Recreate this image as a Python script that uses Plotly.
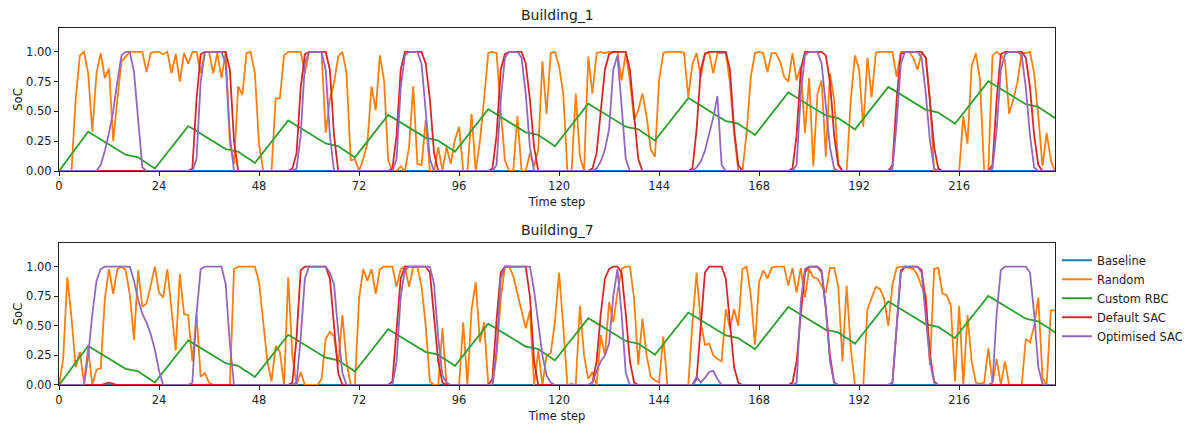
import plotly.graph_objects as go
from plotly.subplots import make_subplots

# ---------------- data ----------------
time_steps = list(range(240))
x_tick_vals = [0, 24, 48, 72, 96, 120, 144, 168, 192, 216]
y_tick_vals = [0.0, 0.25, 0.5, 0.75, 1.0]
y_tick_text = ["0.00", "0.25", "0.50", "0.75", "1.00"]
series_names = ["Baseline", "Random", "Custom RBC", "Default SAC", "Optimised SAC"]
subplot_titles = ["Building_1", "Building_7"]

baseline = [
    0, 0, 0, 0, 0, 0, 0, 0, 0, 0, 0, 0, 0, 0, 0, 0, 0, 0, 0, 0, 0, 0, 0, 0,
    0, 0, 0, 0, 0, 0, 0, 0, 0, 0, 0, 0, 0, 0, 0, 0, 0, 0, 0, 0, 0, 0, 0, 0,
    0, 0, 0, 0, 0, 0, 0, 0, 0, 0, 0, 0, 0, 0, 0, 0, 0, 0, 0, 0, 0, 0, 0, 0,
    0, 0, 0, 0, 0, 0, 0, 0, 0, 0, 0, 0, 0, 0, 0, 0, 0, 0, 0, 0, 0, 0, 0, 0,
    0, 0, 0, 0, 0, 0, 0, 0, 0, 0, 0, 0, 0, 0, 0, 0, 0, 0, 0, 0, 0, 0, 0, 0,
    0, 0, 0, 0, 0, 0, 0, 0, 0, 0, 0, 0, 0, 0, 0, 0, 0, 0, 0, 0, 0, 0, 0, 0,
    0, 0, 0, 0, 0, 0, 0, 0, 0, 0, 0, 0, 0, 0, 0, 0, 0, 0, 0, 0, 0, 0, 0, 0,
    0, 0, 0, 0, 0, 0, 0, 0, 0, 0, 0, 0, 0, 0, 0, 0, 0, 0, 0, 0, 0, 0, 0, 0,
    0, 0, 0, 0, 0, 0, 0, 0, 0, 0, 0, 0, 0, 0, 0, 0, 0, 0, 0, 0, 0, 0, 0, 0,
    0, 0, 0, 0, 0, 0, 0, 0, 0, 0, 0, 0, 0, 0, 0, 0, 0, 0, 0, 0, 0, 0, 0, 0,
]

custom_rbc = [
    0.000, 0.047, 0.094, 0.141, 0.189, 0.236, 0.283, 0.330,
    0.309, 0.287, 0.266, 0.244, 0.223, 0.201, 0.180, 0.158,
    0.137, 0.130, 0.125, 0.115, 0.090, 0.070, 0.045, 0.020,
    0.065, 0.109, 0.154, 0.199, 0.243, 0.288, 0.332, 0.377,
    0.356, 0.334, 0.313, 0.291, 0.270, 0.248, 0.227, 0.205,
    0.184, 0.177, 0.172, 0.162, 0.137, 0.117, 0.092, 0.067,
    0.112, 0.156, 0.201, 0.246, 0.290, 0.335, 0.379, 0.424,
    0.403, 0.381, 0.360, 0.338, 0.317, 0.295, 0.274, 0.252,
    0.231, 0.224, 0.219, 0.209, 0.184, 0.164, 0.139, 0.114,
    0.159, 0.203, 0.248, 0.293, 0.337, 0.382, 0.426, 0.471,
    0.450, 0.428, 0.407, 0.385, 0.364, 0.342, 0.321, 0.299,
    0.278, 0.271, 0.266, 0.256, 0.231, 0.211, 0.186, 0.161,
    0.206, 0.250, 0.295, 0.340, 0.384, 0.429, 0.473, 0.518,
    0.497, 0.475, 0.454, 0.432, 0.411, 0.389, 0.368, 0.346,
    0.325, 0.318, 0.313, 0.303, 0.278, 0.258, 0.233, 0.208,
    0.253, 0.297, 0.342, 0.387, 0.431, 0.476, 0.520, 0.565,
    0.544, 0.522, 0.501, 0.479, 0.458, 0.436, 0.415, 0.393,
    0.372, 0.365, 0.360, 0.350, 0.325, 0.305, 0.280, 0.255,
    0.300, 0.344, 0.389, 0.434, 0.478, 0.523, 0.567, 0.612,
    0.591, 0.569, 0.548, 0.526, 0.505, 0.483, 0.462, 0.440,
    0.419, 0.412, 0.407, 0.397, 0.372, 0.352, 0.327, 0.302,
    0.347, 0.391, 0.436, 0.481, 0.525, 0.570, 0.614, 0.659,
    0.638, 0.616, 0.595, 0.573, 0.552, 0.530, 0.509, 0.487,
    0.466, 0.459, 0.454, 0.444, 0.419, 0.399, 0.374, 0.349,
    0.394, 0.438, 0.483, 0.528, 0.572, 0.617, 0.661, 0.706,
    0.685, 0.663, 0.642, 0.620, 0.599, 0.577, 0.556, 0.534,
    0.513, 0.506, 0.501, 0.491, 0.466, 0.446, 0.421, 0.396,
    0.441, 0.485, 0.530, 0.575, 0.619, 0.664, 0.708, 0.753,
    0.732, 0.710, 0.689, 0.667, 0.646, 0.624, 0.603, 0.581,
    0.560, 0.553, 0.548, 0.538, 0.513, 0.493, 0.468, 0.443,
]

random_b1 = [
    0, 0, 0, 0, 0.6, 0.97, 1, 0.82, 0.33, 0.82, 0.99, 0.78, 0.86, 0.25, 0.6, 0.92, 0.96, 1, 1, 1, 1, 0.83, 0.99, 1,
    1, 0.98, 1, 0.82, 0.98, 0.75, 0.99, 0.9, 1, 1, 0.82, 1, 1, 0.82, 0.99, 0.78, 1, 0.23, 0.06, 0.71, 0.64, 0.99, 1, 0.82,
    0.23, 0, 0, 0, 0.61, 0.61, 0.97, 1, 1, 1, 1, 0.82, 1, 1, 1, 1, 0.32, 0.6, 0.74, 0.96, 1, 0.82, 0.09, 0.1,
    0, 0.1, 0.23, 0.71, 0.51, 0.97, 0.76, 0.09, 0, 0, 0.04, 0, 0.2, 0.71, 0.06, 0.05, 0.43, 0, 0, 0.2, 0, 0.2, 0.06, 0.26,
    0.37, 0, 0, 0.48, 0, 0.25, 0.6, 0.99, 1, 0.99, 0.51, 0.09, 0, 0, 0.46, 0, 0, 0.15, 0.04, 0.18, 0.92, 0.48, 0.99, 1,
    0.88, 0.65, 0, 0, 0.65, 0.12, 0, 0.96, 0.65, 0.99, 1, 0.99, 1, 1, 1, 0.76, 0.99, 0.76, 0.43, 0.51, 0.65, 0.46, 0.18, 0.12,
    0.76, 0.99, 1, 1, 1, 1, 0.99, 0.62, 0.9, 0.99, 0.79, 0.99, 0.99, 0.82, 0.99, 0.99, 0.99, 0.74, 0.32, 0, 0, 0.32, 0.79, 0.99,
    1, 0.99, 0.83, 0.99, 0.99, 0.92, 0.79, 0.75, 0.99, 0.76, 0.88, 0.32, 0.78, 0.04, 0.65, 0.76, 0.12, 0.82, 0.6, 0.06, 0, 0, 0.6, 0.97,
    0.85, 0.37, 0.95, 0.62, 0.99, 1, 1, 1, 1, 0.79, 1, 1, 1, 0.95, 0.85, 0.99, 0.95, 0.6, 0, 0, 0, 0, 0, 0,
    0, 0.46, 0.23, 0.88, 0.99, 0.76, 0, 0, 0.97, 1, 0.97, 0.93, 0.48, 0.6, 0.75, 0.99, 0.99, 1, 0.82, 0.46, 0.04, 0.32, 0.09, 0,
]

default_sac_b1 = [
    0, 0, 0, 0, 0, 0, 0, 0, 0, 0, 0, 0, 0, 0, 0, 0, 0, 0, 0, 0, 0, 0, 0, 0,
    0, 0, 0, 0, 0, 0, 0, 0, 0.02, 0.6, 0.98, 1, 1, 1, 1, 1, 1, 0.85, 0.25, 0, 0, 0, 0, 0,
    0, 0, 0, 0, 0, 0, 0, 0, 0.02, 0.15, 0.7, 0.98, 1, 1, 1, 1, 1, 0.85, 0.3, 0, 0, 0, 0, 0,
    0, 0, 0, 0, 0, 0, 0, 0, 0.02, 0.3, 0.85, 1, 1, 1, 1, 1, 0.9, 0.6, 0.15, 0, 0, 0, 0, 0,
    0, 0, 0, 0, 0, 0, 0, 0, 0.02, 0.3, 0.85, 0.98, 1, 1, 1, 1, 0.9, 0.6, 0.2, 0, 0, 0, 0, 0,
    0, 0, 0, 0, 0, 0, 0, 0, 0.02, 0.15, 0.5, 0.85, 0.98, 1, 1, 1, 1, 0.85, 0.45, 0.1, 0, 0, 0, 0,
    0, 0, 0, 0, 0, 0, 0, 0, 0.02, 0.35, 0.85, 0.98, 1, 1, 1, 1, 1, 0.85, 0.35, 0.05, 0, 0, 0, 0,
    0, 0, 0, 0, 0, 0, 0, 0, 0.02, 0.3, 0.85, 1, 1, 1, 1, 1, 0.97, 0.75, 0.3, 0.05, 0, 0, 0, 0,
    0, 0, 0, 0, 0, 0, 0, 0, 0.05, 0.6, 0.98, 1, 1, 1, 1, 1, 0.95, 0.6, 0.2, 0.02, 0, 0, 0, 0,
    0, 0, 0, 0, 0, 0, 0, 0, 0.05, 0.6, 0.98, 1, 1, 1, 1, 1, 0.95, 0.7, 0.3, 0.05, 0, 0, 0, 0,
]

optimised_sac_b1 = [
    0, 0, 0, 0, 0, 0, 0, 0, 0, 0, 0.05, 0.17, 0.32, 0.5, 0.75, 0.97, 1, 1, 0.83, 0.4, 0.03, 0, 0, 0,
    0, 0, 0, 0, 0, 0, 0, 0, 0, 0.1, 0.75, 1, 1, 1, 1, 1, 0.9, 0.3, 0, 0, 0, 0, 0, 0,
    0, 0, 0, 0, 0, 0, 0, 0, 0, 0.02, 0.3, 0.9, 1, 1, 1, 1, 0.85, 0.3, 0, 0, 0, 0, 0, 0,
    0, 0, 0, 0, 0, 0, 0, 0, 0, 0.1, 0.7, 0.97, 1, 1, 1, 0.9, 0.5, 0.1, 0, 0, 0, 0, 0, 0,
    0, 0, 0, 0, 0, 0, 0, 0, 0, 0.05, 0.6, 0.95, 1, 1, 1, 0.95, 0.65, 0.2, 0, 0, 0, 0, 0, 0,
    0, 0, 0, 0, 0, 0, 0, 0, 0, 0.02, 0.08, 0.18, 0.35, 0.85, 0.97, 0.55, 0.1, 0, 0, 0, 0, 0, 0, 0,
    0, 0, 0, 0, 0, 0, 0, 0, 0, 0.03, 0.08, 0.17, 0.3, 0.45, 0.63, 0.05, 0, 0, 0, 0, 0, 0, 0, 0,
    0, 0, 0, 0, 0, 0, 0, 0, 0, 0.05, 0.65, 0.97, 1, 1, 1, 0.9, 0.55, 0.2, 0.02, 0, 0, 0, 0, 0,
    0, 0, 0, 0, 0, 0, 0, 0, 0.02, 0.4, 0.9, 1, 1, 1, 1, 0.95, 0.65, 0.25, 0.02, 0, 0, 0, 0, 0,
    0, 0, 0, 0, 0, 0, 0, 0, 0.02, 0.35, 0.85, 0.98, 1, 1, 1, 0.97, 0.7, 0.3, 0.03, 0, 0, 0, 0, 0,
]

random_b7 = [
    0, 0.22, 0.91, 0.57, 0.15, 0.28, 0.02, 0.31, 0, 0.13, 0.14, 0.73, 0.98, 0.77, 0.98, 1, 0.97, 0.76, 0.38, 0.97, 0.66, 0.69, 0.84, 1,
    0.78, 0.74, 0.98, 0.64, 0.29, 0.94, 0.6, 0.59, 0.2, 0.6, 0.07, 0.1, 0.02, 0, 0, 0, 0, 0, 0.98, 1, 1, 1, 1, 1,
    0.87, 0.53, 0.2, 0.03, 0.33, 0.28, 0, 0.91, 0.25, 0, 0.11, 0, 0, 0, 0, 0.05, 0.39, 0.45, 0.41, 0.17, 0.59, 0.2, 0, 0,
    0.73, 0.98, 0.88, 0.98, 0.77, 0.98, 1, 1, 1, 0.83, 0.98, 1, 0.83, 1, 1, 0.83, 0.5, 0.03, 0, 0, 0.48, 0, 0, 0,
    0, 0.53, 0, 0.64, 0.87, 0.36, 0.53, 0, 0, 0.25, 0.73, 1, 1, 0.92, 0.78, 0.64, 0.48, 0.63, 0, 0.29, 0, 0.25, 0.27, 0.53,
    0.95, 0.5, 0, 0.01, 0, 0.67, 0.25, 0.05, 0.11, 0, 0.42, 0.25, 0.7, 0.53, 0.78, 0.98, 1, 1, 0.73, 0.17, 0.56, 0.25, 0.07, 0.04,
    0.02, 0.41, 0, 0, 0, 0, 0, 0, 0.53, 0.95, 0.53, 0.34, 0.35, 0.25, 0.22, 0.2, 0.64, 0.48, 0.64, 0.5, 0.98, 1, 0.76, 0.34,
    0.87, 0.97, 0.9, 0.99, 1, 1, 1, 0.84, 0.99, 0.78, 0.99, 0.74, 0.98, 0.91, 0.9, 0.84, 0.78, 0.99, 0.99, 0.83, 0.2, 0.84, 0.31, 0,
    0, 0, 0.64, 0.74, 0.83, 0.81, 0.73, 0.5, 0.85, 0.99, 1, 1, 0.99, 0.98, 0.93, 0.83, 0.76, 0.17, 0.98, 0.99, 0.77, 0.76, 0.67, 0.03,
    0.67, 0, 0.59, 0.2, 0.02, 0.01, 0.02, 0.31, 0.02, 0.22, 0, 0.2, 0, 0, 0, 0, 0.39, 0.36, 0.5, 0.74, 0.06, 0, 0.63, 0.63,
]

default_sac_b7 = [
    0, 0, 0, 0, 0, 0, 0, 0, 0, 0, 0, 0.01, 0.02, 0.01, 0, 0, 0, 0, 0, 0, 0, 0, 0, 0,
    0, 0, 0, 0, 0, 0, 0, 0, 0, 0, 0, 0, 0, 0, 0, 0, 0, 0, 0, 0, 0, 0, 0, 0,
    0, 0, 0, 0, 0, 0, 0, 0, 0.02, 0.4, 0.97, 1, 1, 1, 1, 1, 1, 0.9, 0.5, 0.1, 0, 0, 0, 0,
    0, 0, 0, 0, 0, 0, 0, 0, 0.03, 0.5, 0.9, 1, 1, 1, 1, 1, 1, 0.95, 0.6, 0.2, 0.02, 0, 0, 0,
    0, 0, 0, 0, 0, 0, 0, 0, 0.05, 0.55, 0.95, 1, 1, 1, 1, 1, 1, 0.75, 0.2, 0, 0, 0, 0, 0,
    0, 0, 0, 0, 0, 0, 0, 0, 0.02, 0.2, 0.6, 0.9, 0.98, 1, 1, 0.95, 0.6, 0.2, 0.02, 0, 0, 0, 0, 0,
    0, 0, 0, 0, 0, 0, 0, 0, 0, 0.05, 0.5, 0.95, 1, 1, 1, 1, 0.9, 0.55, 0.15, 0.02, 0, 0, 0, 0,
    0, 0, 0, 0, 0, 0, 0, 0, 0.02, 0.2, 0.6, 0.95, 1, 1, 1, 0.95, 0.65, 0.25, 0.02, 0, 0, 0, 0, 0,
    0, 0, 0, 0, 0, 0, 0, 0, 0.02, 0.45, 0.95, 1, 1, 1, 1, 0.97, 0.7, 0.25, 0.03, 0, 0, 0, 0, 0,
    0, 0, 0, 0, 0, 0, 0, 0, 0, 0, 0, 0, 0, 0, 0, 0, 0, 0, 0, 0, 0, 0, 0, 0,
]

optimised_sac_b7 = [
    0, 0, 0, 0, 0, 0, 0, 0.25, 0.6, 0.88, 0.98, 1, 1, 1, 1, 1, 1, 1, 0.88, 0.72, 0.6, 0.53, 0.43, 0.3,
    0.12, 0, 0, 0, 0, 0, 0, 0, 0.02, 0.6, 0.98, 1, 1, 1, 1, 1, 0.85, 0.35, 0, 0, 0, 0, 0, 0,
    0, 0, 0, 0, 0, 0, 0, 0, 0, 0.02, 0.4, 0.9, 1, 1, 1, 1, 1, 0.95, 0.85, 0.45, 0.1, 0, 0, 0,
    0, 0, 0, 0, 0, 0, 0, 0, 0, 0.2, 0.75, 0.97, 1, 1, 1, 1, 1, 1, 0.85, 0.4, 0.08, 0.02, 0, 0,
    0, 0, 0, 0, 0, 0, 0, 0, 0, 0.3, 0.9, 1, 1, 1, 1, 1, 1, 1, 0.8, 0.5, 0.25, 0.08, 0.02, 0,
    0, 0, 0, 0, 0, 0, 0, 0, 0.02, 0.12, 0.2, 0.25, 0.35, 0.75, 0.98, 0.6, 0.1, 0, 0, 0, 0, 0, 0, 0,
    0, 0, 0, 0, 0, 0, 0, 0, 0, 0.07, 0.02, 0.06, 0.11, 0.12, 0.05, 0, 0, 0, 0, 0, 0, 0, 0, 0,
    0, 0, 0, 0, 0, 0, 0, 0, 0, 0.02, 0.7, 0.98, 1, 1, 1, 0.97, 0.65, 0.2, 0.02, 0, 0, 0, 0, 0,
    0, 0, 0, 0, 0, 0, 0, 0, 0.02, 0.5, 0.97, 1, 1, 1, 1, 0.95, 0.6, 0.2, 0.02, 0, 0, 0, 0, 0,
    0, 0, 0, 0, 0, 0, 0, 0, 0.02, 0.6, 0.97, 1, 1, 1, 1, 1, 1, 0.95, 0.6, 0.15, 0.01, 0, 0, 0,
]

colors = ["#1f77b4", "#ff7f0e", "#2ca02c", "#d62728", "#9467bd"]
buildings = [
    [baseline, random_b1, custom_rbc, default_sac_b1, optimised_sac_b1],
    [baseline, random_b7, custom_rbc, default_sac_b7, optimised_sac_b7],
]

# ---------------- figure ----------------
FONT = "DejaVu Sans"
fig = make_subplots(rows=2, cols=1, vertical_spacing=0.2)

for r, series_list in enumerate(buildings, start=1):
    for name, vals, col in zip(series_names, series_list, colors):
        fig.add_trace(
            go.Scatter(
                x=time_steps, y=vals, mode="lines", name=name,
                line=dict(color=col, width=1.8),
                legendgroup=name, showlegend=(r == 2),
            ),
            row=r, col=1,
        )

axis_common = dict(
    showline=True, mirror=True, linecolor="#222", linewidth=1,
    ticks="outside", ticklen=4, tickcolor="#222", tickwidth=1,
    showgrid=False, zeroline=False,
    tickfont=dict(family=FONT, size=11.5, color="#222"),
)

for r in (1, 2):
    fig.update_xaxes(
        range=[0, 239], tickmode="array", tickvals=x_tick_vals,
        title=dict(text="Time step", font=dict(family=FONT, size=11.5, color="#222"), standoff=6),
        row=r, col=1, **axis_common,
    )
    fig.update_yaxes(
        range=[0, 1.2], tickmode="array", tickvals=y_tick_vals, ticktext=y_tick_text,
        title=dict(text="SoC", font=dict(family=FONT, size=11.5, color="#222"), standoff=1),
        row=r, col=1, **axis_common,
    )

fig.update_layout(
    width=1190, height=430,
    margin=dict(l=59, r=135, t=28, b=45, autoexpand=False),
    paper_bgcolor="white", plot_bgcolor="white",
    font=dict(family=FONT, size=11.5, color="#222"),
    yaxis=dict(domain=[0.5994, 1.0]),
    yaxis2=dict(domain=[0.0, 0.3978]),
    legend=dict(
        x=1.002, y=0.39, xanchor="left", yanchor="top",
        font=dict(family=FONT, size=11.5, color="#222"),
        bgcolor="rgba(0,0,0,0)", tracegroupgap=0,
    ),
    showlegend=True,
)

for title, dom_top in zip(subplot_titles, [1.0, 0.3978]):
    fig.add_annotation(
        text=title, x=0.5, xref="paper", y=dom_top, yref="paper",
        xanchor="center", yanchor="bottom", yshift=3, showarrow=False,
        font=dict(family=FONT, size=14, color="#222"),
    )

fig.write_html("out.html")
